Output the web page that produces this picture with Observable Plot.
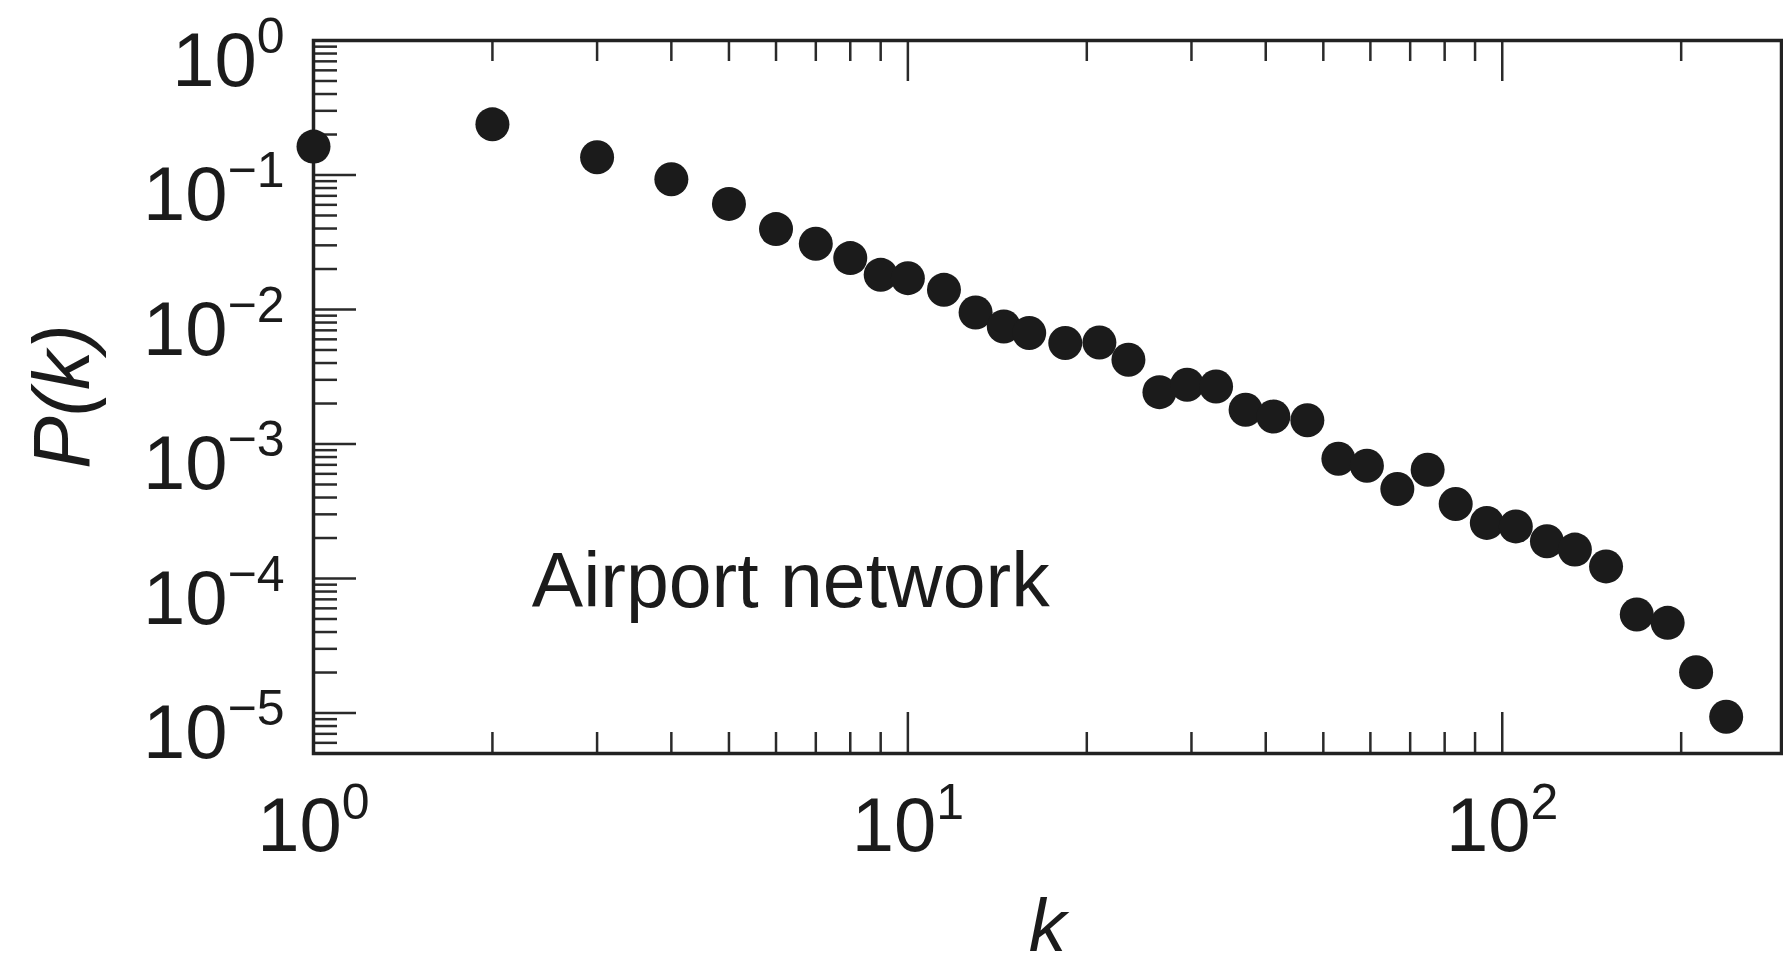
<!DOCTYPE html>
<html>
<head>
<meta charset="utf-8">
<script src="https://cdn.jsdelivr.net/npm/d3@7"></script>
<script src="https://cdn.jsdelivr.net/npm/@observablehq/plot@0.6"></script>
<style>
  html, body { margin: 0; padding: 0; background: #fff; }
  svg { display: block; }
</style>
</head>
<body>
<div id="chart"></div>
<script>
// ---- data ----
const degree = [1, 2, 3, 4, 5, 6, 7, 8, 9, 10, 11.5, 13, 14.5, 16, 18.4, 21, 23.5, 26.5, 29.5, 33, 37, 41.2, 47, 53, 59.2, 66.6, 74.9, 83.5, 94.2, 105.4, 118.9, 132.5, 149.5, 168.4, 189.8, 211.9, 238.1];
const prob = [0.1626, 0.238, 0.1356, 0.0931, 0.0610, 0.0396, 0.0308, 0.0241, 0.0181, 0.0171, 0.0140, 0.0095, 0.00748, 0.00668, 0.00563, 0.00569, 0.00423, 0.00243, 0.00276, 0.00268, 0.00180, 0.00160, 0.00150, 0.000778, 0.00069, 0.000463, 0.000644, 0.000358, 0.000259, 0.000244, 0.000189, 0.000164, 0.000123, 0.0000540, 0.0000468, 0.0000201, 0.00000937];

const xMajorTicks = [1, 10, 100];
const yMajorTicks = [1, 1e-1, 1e-2, 1e-3, 1e-4, 1e-5];
const minorMantissas = [2, 3, 4, 5, 6, 7, 8, 9];
const xMinorDecades = [1, 10, 100];
const yMinorDecades = [1e-6, 1e-5, 1e-4, 1e-3, 1e-2, 1e-1];
const xDomain = [1, 295];
const yDomain = [5e-6, 1];

const annotationText = "Airport network";
const xLabel = "k";
const yLabel = "P(k)";

// ---- layout ----
const W = 1783, H = 965;
const mL = 313, mR = 2, mT = 40, mB = 212;
const fw = W - mL - mR, fh = H - mT - mB;
const ink = "#1b1b1b";

const xMinor = xMinorDecades.flatMap(d => minorMantissas.map(m => m * d)).filter(v => v <= xDomain[1]);
const yMinor = yMinorDecades.flatMap(d => minorMantissas.map(m => m * d)).filter(v => v >= yDomain[0]);
const points = degree.map((k, i) => ({k, p: prob[i]}));
const exponent = d => String(Math.round(Math.log10(d)));

const tickStyle = {stroke: "#2a2a2a", strokeWidth: 2.5};

const svg = Plot.plot({
  width: W, height: H,
  marginLeft: mL, marginRight: mR, marginTop: mT, marginBottom: mB,
  style: {fontFamily: "'Liberation Sans', Arial, Helvetica, sans-serif", background: "#fff", color: ink, overflow: "visible"},
  x: {type: "log", domain: xDomain},
  y: {type: "log", domain: yDomain},
  marks: [
    // inward ticks on the left side
    Plot.tickY(yMinor, {y: d => d, insetRight: fw - 24, ...tickStyle}),
    Plot.tickY(yMajorTicks, {y: d => d, insetRight: fw - 43, ...tickStyle}),
    // inward ticks on bottom and top
    Plot.tickX(xMinor, {x: d => d, insetTop: fh - 21, ...tickStyle}),
    Plot.tickX(xMajorTicks, {x: d => d, insetTop: fh - 41, ...tickStyle}),
    Plot.tickX(xMinor, {x: d => d, insetBottom: fh - 21, ...tickStyle}),
    Plot.tickX(xMajorTicks, {x: d => d, insetBottom: fh - 41, ...tickStyle}),
    Plot.frame({stroke: "#222", strokeWidth: 3.5}),
    Plot.axisY(yMajorTicks, {tickSize: 0, tickPadding: 29, fontSize: 76, tickFormat: exponent, label: null, fill: ink}),
    Plot.axisX(xMajorTicks, {tickSize: 0, tickPadding: 0, fontSize: 76, tickFormat: exponent, label: null, fill: ink}),
    Plot.dot(points, {x: "k", y: "p", r: 17, fill: ink}),
    Plot.text([annotationText], {x: 2.33, y: 6.1e-5, text: d => d, textAnchor: "start", lineAnchor: "bottom", fontSize: 77, fill: ink}),
    Plot.text([yLabel], {frameAnchor: "left", rotate: -90, dx: -225, dy: 72, lineAnchor: "bottom", fontSize: 79, fontStyle: "italic", text: d => d, fill: ink}),
    Plot.text([xLabel], {frameAnchor: "bottom", dy: 197, lineAnchor: "bottom", fontSize: 75, fontStyle: "italic", text: d => d, fill: ink})
  ]
});

// turn exponent labels into 10^e with a superscript
function superscript(selector, baseDy, supDy) {
  d3.select(svg).selectAll(selector).each(function () {
    const e = this.textContent.replace("-", "\u2212");
    this.textContent = "";
    this.setAttribute("y", "0");
    const t = d3.select(this);
    t.append("tspan").attr("dy", baseDy).text("10");
    t.append("tspan").attr("dy", supDy).attr("font-size", 50).text(e);
  });
}
superscript('g[aria-label="y-axis tick label"] text', 45, -33);
superscript('g[aria-label="x-axis tick label"] text', 97, -32);

document.getElementById("chart").appendChild(svg);
</script>
</body>
</html>
